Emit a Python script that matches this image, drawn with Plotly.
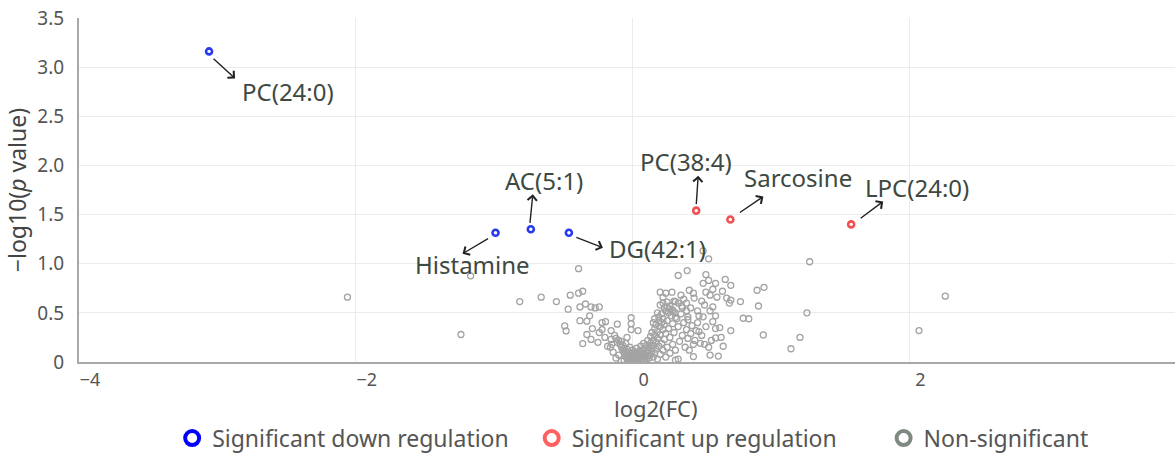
import plotly.graph_objects as go

# ---------------- data ----------------
down_names = ["PC(24:0)", "Histamine", "AC(5:1)", "DG(42:1)"]
down_x = [-3.06, -0.99, -0.735, -0.46]
down_y = [3.16, 1.315, 1.35, 1.315]

up_names = ["PC(38:4)", "Sarcosine", "LPC(24:0)"]
up_x = [0.46, 0.707, 1.58]
up_y = [1.54, 1.45, 1.40]

ns_x = [
    -2.06, -1.24, -1.17, -0.815, -0.66, -0.55, -0.39, -0.465, -0.45, -0.39, -0.36, -0.38, -0.34,
    -0.30, -0.27, -0.24, -0.31, -0.38, -0.33, -0.49, -0.48, -0.29, -0.33, -0.30, -0.36, -0.22,
    -0.195, -0.22, -0.155, -0.11, -0.155, -0.16, -0.01, -0.01, -0.01, 0.04, -0.04,
    0.33, 0.395, 0.51, 0.55, 0.53, 0.51, 0.41, 0.58, 0.67, 0.71, 0.61, 0.71, 0.70, 0.78, 0.90,
    0.95, 0.91, 1.28, 1.26, 1.21, 1.145, 0.945, 0.80, 0.84, 0.71, 0.63, 0.60, 0.64, 0.60, 0.58,
    0.56, 0.60, 0.51, 0.48, 0.44, 0.37, 0.445, 0.31, 0.285, 0.20, 2.26, 2.07,
    0.22, 0.25, 0.24, 0.27, 0.295, 0.31, 0.355, 0.39, 0.40, 0.49, 0.52, 0.56, 0.62, 0.655, 0.44,
    0.41, 0.33, 0.31, 0.45, 0.40,
    -0.12, -0.11, -0.10, -0.09, -0.08, -0.08, -0.07, -0.07, -0.06, -0.06, -0.05, -0.05, -0.05,
    -0.04, -0.04, -0.04, -0.03, -0.03, -0.03, -0.02, -0.02, -0.02, -0.01, -0.01, -0.01, 0.00,
    0.00, 0.00, 0.01, 0.01, 0.01, 0.02, 0.02, 0.02, 0.03, 0.03, 0.03, 0.04, 0.04, 0.04, 0.05,
    0.05, 0.05, 0.06, 0.06, 0.06, 0.07, 0.07, 0.07, 0.08, 0.08, 0.08, 0.09, 0.09, 0.09, 0.10,
    0.10, 0.10, 0.11, 0.11, 0.11, 0.12, 0.12, 0.12, 0.13, 0.13, 0.13, 0.14, 0.14, 0.14, 0.15,
    0.15, 0.15, 0.16, 0.16, 0.16, 0.17, 0.17, 0.17, 0.18, 0.18, 0.18, 0.19, 0.19, 0.19, 0.20,
    0.20, 0.20, 0.21, 0.21, 0.21, 0.22, 0.22, 0.22, 0.23, 0.23, 0.24, 0.24, 0.25, 0.25, 0.26,
    0.27, 0.27, 0.28, 0.29, 0.29, 0.30, 0.31, 0.32, 0.33, 0.34, 0.35, 0.36, 0.37, 0.38, 0.39,
    0.40, 0.42, 0.43, 0.44, 0.46, 0.47, 0.50, 0.53, 0.55, 0.57,
    0.20, 0.23, 0.25, 0.26, 0.27, 0.29, 0.31, 0.33, 0.35, 0.36, 0.39, 0.42, 0.47, 0.50, 0.53,
    0.56, 0.55, 0.60, 0.65, 0.68, 0.58, 0.52, 0.48, 0.16, 0.15, 0.18, 0.22, 0.30, 0.24,
    -0.25, -0.20, -0.18, -0.14, -0.13, -0.24, -0.12, -0.10, -0.15, -0.08, -0.06,
]
ns_y = [
    0.66, 0.28, 0.877, 0.615, 0.66, 0.615, 0.95, 0.537, 0.68, 0.70, 0.72, 0.56, 0.59,
    0.56, 0.55, 0.56, 0.47, 0.42, 0.415, 0.367, 0.316, 0.34, 0.28, 0.23, 0.187, 0.40,
    0.41, 0.33, 0.32, 0.385, 0.23, 0.15, 0.45, 0.39, 0.33, 0.32, 0.25,
    0.88, 0.93, 1.13, 1.05, 0.89, 0.80, 0.73, 0.74, 0.84, 0.78, 0.66, 0.63, 0.60, 0.615, 0.73,
    0.76, 0.57, 1.02, 0.50, 0.25, 0.135, 0.275, 0.445, 0.44, 0.32, 0.35, 0.34, 0.25, 0.245, 0.41,
    0.52, 0.47, 0.46, 0.31, 0.70, 0.64, 0.65, 0.615, 0.71, 0.71, 0.67, 0.32,
    0.60, 0.56, 0.52, 0.54, 0.51, 0.455, 0.57, 0.52, 0.46, 0.19, 0.18, 0.07, 0.06, 0.16, 0.055,
    0.12, 0.03, 0.02, 0.22, 0.24,
    0.24, 0.20, 0.22, 0.18, 0.15, 0.21, 0.12, 0.17, 0.09, 0.14, 0.06, 0.11, 0.19,
    0.04, 0.08, 0.13, 0.02, 0.06, 0.10, 0.03, 0.07, 0.15, 0.01, 0.05, 0.09, 0.02,
    0.04, 0.12, 0.01, 0.06, 0.08, 0.03, 0.05, 0.10, 0.01, 0.07, 0.14, 0.02, 0.04, 0.09, 0.03,
    0.06, 0.11, 0.01, 0.08, 0.16, 0.04, 0.06, 0.12, 0.02, 0.09, 0.19, 0.05, 0.07, 0.14, 0.03,
    0.10, 0.17, 0.06, 0.12, 0.22, 0.04, 0.09, 0.15, 0.07, 0.19, 0.26, 0.11, 0.14, 0.30, 0.05,
    0.17, 0.22, 0.09, 0.27, 0.34, 0.13, 0.20, 0.38, 0.03, 0.24, 0.31, 0.16, 0.42, 0.46, 0.08,
    0.28, 0.36, 0.19, 0.40, 0.49, 0.12, 0.33, 0.44, 0.23, 0.38, 0.05, 0.29, 0.15, 0.42, 0.34,
    0.09, 0.25, 0.47, 0.18, 0.39, 0.30, 0.12, 0.44, 0.36, 0.21, 0.49, 0.27, 0.40, 0.15, 0.33,
    0.43, 0.29, 0.37, 0.18, 0.32, 0.40, 0.27, 0.36, 0.15, 0.22,
    0.58, 0.55, 0.61, 0.50, 0.57, 0.53, 0.50, 0.60, 0.68, 0.55, 0.60, 0.55, 0.52, 0.62, 0.71,
    0.68, 0.83, 0.80, 0.72, 0.65, 0.56, 0.58, 0.47, 0.44, 0.40, 0.50, 0.66, 0.62, 0.70,
    0.20, 0.25, 0.16, 0.10, 0.27, 0.30, 0.04, 0.07, 0.18, 0.01, 0.02,
]

y_tick_vals = [0, 0.5, 1.0, 1.5, 2.0, 2.5, 3.0, 3.5]
y_tick_text = ["0", "0.5", "1.0", "1.5", "2.0", "2.5", "3.0", "3.5"]
x_tick_vals = [-4, -2, 0, 2]

legend_names = ["Significant down regulation", "Significant up regulation", "Non-significant"]
x_title = "log2(FC)"
y_title = "\u2212log10(<i>p</i> value)"

# ---------------- layout / style ----------------
# label layout (pixel offsets from the point): text centre, arrow head, arrow tail
label_layout = {
    "PC(24:0)":  dict(tx=79, ty=-40, hx=26, hy=-27, sx=3, sy=-6),
    "Histamine": dict(tx=-23, ty=-32, hx=-33, hy=-21, sx=-6, sy=-5),
    "AC(5:1)":   dict(tx=13, ty=49, hx=2, hy=35, sx=-1, sy=5),
    "DG(42:1)":  dict(tx=89, ty=-16, hx=34, hy=-15, sx=6, sy=-4),
    "PC(38:4)":  dict(tx=-10, ty=49, hx=2, hy=35, sx=0, sy=5),
    "Sarcosine": dict(tx=68, ty=42, hx=33, hy=23, sx=8, sy=6),
    "LPC(24:0)": dict(tx=66, ty=37, hx=32, hy=23, sx=8, sy=5),
}
legend_pad = ["\u00a0" * 3, "\u00a0" * 7, ""]   # spacing between legend entries

FONT = "Noto Sans, Roboto, DejaVu Sans, sans-serif"
TEXT_COLOR = "#3d4941"

fig = go.Figure()

fig.add_trace(go.Scatter(
    x=ns_x, y=ns_y, mode="markers", showlegend=False, hoverinfo="x+y",
    marker=dict(symbol="circle-open", size=6, color="#a3a3a3", line=dict(width=1.3, color="#a3a3a3")),
))
fig.add_trace(go.Scatter(
    x=down_x, y=down_y, mode="markers", showlegend=False, text=down_names,
    marker=dict(symbol="circle-open", size=6, color="#2638f0", line=dict(width=2.6, color="#2638f0")),
))
fig.add_trace(go.Scatter(
    x=up_x, y=up_y, mode="markers", showlegend=False, text=up_names,
    marker=dict(symbol="circle-open", size=6, color="#f05050", line=dict(width=2.6, color="#f05050")),
))

legend_colors = ["#0000ff", "#ff6060", "#7e8a80"]
for name, pad, col in zip(legend_names, legend_pad, legend_colors):
    fig.add_trace(go.Scatter(
        x=[None], y=[None], mode="markers", name=name + pad,
        marker=dict(symbol="circle-open", size=14, color=col, line=dict(width=4, color=col)),
    ))

annotations = []
for names, xs, ys in ((down_names, down_x, down_y), (up_names, up_x, up_y)):
    for n, x, y in zip(names, xs, ys):
        L = label_layout[n]
        annotations.append(dict(
            x=x, y=y, xref="x", yref="y", text=n, showarrow=False,
            xshift=L["tx"], yshift=L["ty"], xanchor="center", yanchor="middle",
            font=dict(family=FONT, size=24, color=TEXT_COLOR),
        ))
        annotations.append(dict(
            x=x, y=y, xref="x", yref="y", text="", showarrow=True,
            xshift=L["hx"], yshift=L["hy"],
            axref="pixel", ayref="pixel",
            ax=L["sx"] - L["hx"], ay=-(L["sy"] - L["hy"]),
            arrowhead=4, arrowsize=1.3, arrowwidth=1.4, arrowcolor="#222222",
            standoff=0, startstandoff=0,
        ))

# x-axis title, placed as in the reference (slightly right of the plot centre)
annotations.append(dict(
    x=0.5265, y=-0.134, xref="paper", yref="paper", text=x_title, showarrow=False,
    xanchor="center", yanchor="middle", font=dict(family=FONT, size=22, color="#555555"),
))

fig.update_layout(
    width=1175, height=454,
    margin=dict(l=79, r=0, t=18, b=92),
    paper_bgcolor="white", plot_bgcolor="white",
    font=dict(family=FONT, size=18, color="#555555"),
    annotations=annotations,
    legend=dict(
        orientation="h", x=0.085, xanchor="left", xref="paper",
        y=0.035, yanchor="middle", yref="container",
        font=dict(family=FONT, size=23, color="#555555"),
        bgcolor="rgba(0,0,0,0)",
    ),
    xaxis=dict(
        range=[-4, 3.92], tickvals=x_tick_vals, showgrid=True, gridcolor="#ebebeb", gridwidth=1,
        zeroline=False, showline=True, linecolor="#a8a8a8", linewidth=2,
        tickfont=dict(size=18, color="#555555"), ticklabelshift=11, automargin=False,
    ),
    yaxis=dict(
        range=[0, 3.5], tickvals=y_tick_vals, ticktext=y_tick_text, showgrid=True,
        gridcolor="#ebebeb", gridwidth=1, zeroline=False, showline=True, linecolor="#a8a8a8",
        linewidth=2, tickfont=dict(size=19, color="#555555"),
        ticks="outside", ticklen=9, tickcolor="rgba(0,0,0,0)", automargin=False,
        title=dict(text=y_title, font=dict(size=23, color="#444444"), standoff=4),
    ),
)

fig.write_html("out.html")
